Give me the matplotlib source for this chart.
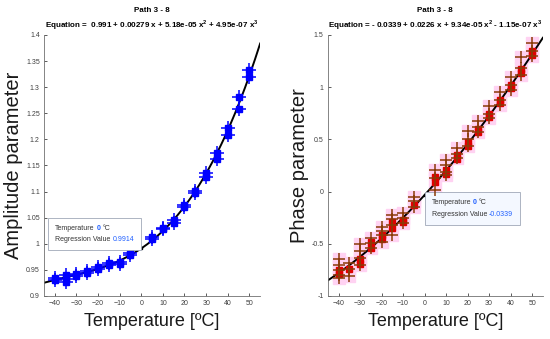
import numpy as np
import matplotlib
matplotlib.use("Agg")
import matplotlib.pyplot as plt
from matplotlib.offsetbox import TextArea, HPacker, VPacker, AnnotationBbox

plt.rcParams['font.family'] = ['Liberation Sans', 'DejaVu Sans']
plt.rcParams['mathtext.fontset'] = 'custom'
plt.rcParams['mathtext.rm'] = 'Liberation Sans'
plt.rcParams['mathtext.bf'] = 'Liberation Sans:bold'

# ---- data ----
temps = [-40, -35, -30, -25, -20, -15, -10, -5, 5, 10, 15, 20, 25, 30, 35, 40, 45, 50]

amp_samples = [
    [0.934, 0.930], [0.940, 0.927, 0.933], [0.938, 0.942], [0.944, 0.948],
    [0.952, 0.955], [0.959, 0.964], [0.965, 0.962], [0.982, 0.978],
    [1.009, 1.012], [1.028, 1.031], [1.046, 1.040], [1.074, 1.070],
    [1.101, 1.098], [1.136, 1.128], [1.174, 1.162], [1.222, 1.208],
    [1.281, 1.258], [1.333, 1.320],
]
amp_coef = [0.991, 0.00279, 5.18e-05, 4.95e-07]

phase_plus = [
    [-0.65, -0.70, -0.75, -0.80, -0.83], [-0.685, -0.74, -0.805],
    [-0.50, -0.57, -0.64, -0.70], [-0.445, -0.49, -0.54],
    [-0.34, -0.38, -0.42, -0.48], [-0.22, -0.26, -0.32, -0.42],
    [-0.21, -0.255, -0.30], [-0.05, -0.095, -0.15],
    [0.21, 0.13, 0.016], [0.30, 0.255, 0.19, 0.16],
    [0.42, 0.36, 0.32], [0.58, 0.50, 0.44], [0.68, 0.62, 0.57],
    [0.82, 0.74, 0.70], [0.95, 0.88, 0.83], [1.10, 1.02, 0.97],
    [1.29, 1.18, 1.12], [1.42, 1.35, 1.30],
]
phase_squares = [
    [-0.75, -0.79], [-0.74], [-0.65, -0.69], [-0.48, -0.54], [-0.42, -0.45],
    [-0.29, -0.35], [-0.27, -0.29], [-0.13], [0.14, 0.09], [0.21, 0.17],
    [0.35, 0.31], [0.47, 0.44], [0.60, 0.57], [0.74, 0.71], [0.88, 0.85],
    [1.02, 0.99], [1.17, 1.14], [1.35, 1.31],
]
phase_coef = [-0.0339, 0.0226, 9.34e-05, -1.15e-07]

tip_temp = 0
amp_tip = 0.9914
phase_tip = -0.0339

GRAY = '#404040'


def poly(c, x):
    return c[0] + c[1] * x + c[2] * x ** 2 + c[3] * x ** 3


def flatten(temps, groups):
    xs, ys = [], []
    for t, g in zip(temps, groups):
        xs += [t] * len(g)
        ys += list(g)
    return np.array(xs), np.array(ys)


def style_axes(ax, ylim, yticks, ylabel):
    ax.set_xlim(-45, 55)
    ax.set_ylim(*ylim)
    ax.set_xticks(range(-40, 51, 10))
    ax.set_yticks(yticks)
    ax.yaxis.set_major_formatter(plt.FuncFormatter(lambda v, p: ('%g' % round(v, 2))))
    ax.tick_params(direction='in', length=2.5, width=0.6, labelsize=5, colors=GRAY, pad=3)
    for s in ['top', 'right']:
        ax.spines[s].set_visible(False)
    for s in ['left', 'bottom']:
        ax.spines[s].set_color('#707070')
        ax.spines[s].set_linewidth(0.6)
    ax.set_xlabel('Temperature [ºC]', fontsize=13, color='#1a1a1a', labelpad=4)
    ax.set_ylabel(ylabel, fontsize=14.5, color='#1a1a1a', labelpad=2)


def add_tip(ax, xy, value, box_xy, face):
    fs = 5.0
    line1 = HPacker(children=[
        TextArea('Temperature', textprops=dict(size=fs, color='#333333')),
        TextArea('%d' % tip_temp, textprops=dict(size=fs, color='#2060ff', weight='bold')),
        TextArea('°C', textprops=dict(size=fs, color='#333333')),
    ], sep=1.5, pad=0)
    line2 = HPacker(children=[
        TextArea('Regression Value', textprops=dict(size=fs, color='#333333')),
        TextArea('%.4f' % value, textprops=dict(size=fs, color='#2060ff')),
    ], sep=1.5, pad=0)
    box = VPacker(children=[line1, line2], sep=3, pad=0, align='left')
    ab = AnnotationBbox(box, xy, xybox=box_xy, xycoords='data', boxcoords='axes fraction',
                        pad=0.5, bboxprops=dict(facecolor=face, edgecolor='#a0a8b8', lw=0.6))
    ax.add_artist(ab)
    ax.plot([xy[0]], [xy[1]], 's', color='k', markersize=1.5)


fig = plt.figure(figsize=(5.5, 3.39), dpi=100)
ax1 = fig.add_axes([0.080, 0.127, 0.393, 0.770])
ax2 = fig.add_axes([0.596, 0.127, 0.391, 0.770])

xf = np.linspace(-45, 55, 300)

# left: amplitude
ax, ay = flatten(temps, amp_samples)
ax1.plot(xf, poly(amp_coef, xf), color='k', lw=1.4, zorder=2)
ax1.plot(ax, ay, 's', color='#0000ff', markersize=5, zorder=3)
ax1.plot(ax, ay, '+', color='#0000ff', markersize=10, mew=1.1, zorder=3)
style_axes(ax1, (0.9, 1.4), np.arange(0.9, 1.401, 0.05), 'Amplitude parameter')
ax1.set_title('Path 3 - 8\nEquation =  0.991 + 0.00279 x + 5.18e-05 x$^{\\mathbf{2}}$ + 4.95e-07 x$^{\\mathbf{3}}$',
              fontsize=5.8, fontweight='bold', pad=5, linespacing=1.45)
add_tip(ax1, (tip_temp, amp_tip), amp_tip, (0.234, 0.236), 'white')

# right: phase
px, py = flatten(temps, phase_plus)
sx, sy = flatten(temps, phase_squares)
ax2.plot(px, py, 's', color='#ffd2f2', markersize=9, zorder=1)
ax2.plot(xf, poly(phase_coef, xf), color='k', lw=1.4, zorder=2)
ax2.plot(sx, sy, 's', color='#e00000', markersize=5, zorder=3)
ax2.plot(px, py, '+', color='#8a3a08', markersize=8, mew=1.1, zorder=4)
style_axes(ax2, (-1, 1.5), np.arange(-1, 1.51, 0.5), 'Phase parameter')
ax2.set_title('Path 3 - 8\nEquation = - 0.0339 + 0.0226 x + 9.34e-05 x$^{\\mathbf{2}}$ - 1.15e-07 x$^{\\mathbf{3}}$',
              fontsize=5.8, fontweight='bold', pad=5, linespacing=1.45)
add_tip(ax2, (tip_temp, phase_tip), phase_tip, (0.672, 0.335), '#f4f8ff')

fig.savefig('out.png', dpi=100)
